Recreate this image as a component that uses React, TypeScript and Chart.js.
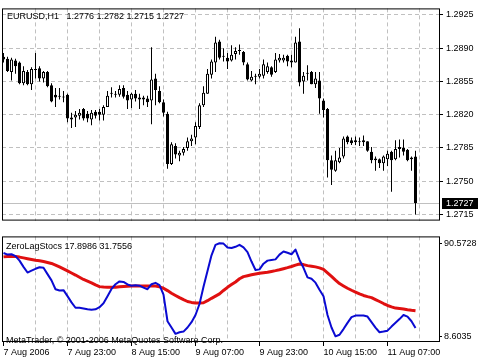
import React, { useEffect, useRef } from "react";
import { Chart, registerables } from "chart.js";

Chart.register(...registerables);

const FONT = "'Liberation Sans', Arial, sans-serif";
const GRID = "#c0c0c0";

// ---- Data (EURUSD H1 candles, bar index 0 = 7 Aug 07:00) ----
const opens = [
  1.2881, 1.2879, 1.2865, 1.2877, 1.2875, 1.2853, 1.2865, 1.2852, 1.2867, 1.2869,
  1.2858, 1.2865, 1.2851, 1.2841, 1.2840, 1.2839, 1.2841, 1.2817, 1.2817, 1.2819,
  1.2826, 1.2821, 1.2815, 1.2823, 1.2823, 1.2820, 1.2828, 1.2842, 1.2842, 1.2841,
  1.2848, 1.2841, 1.2836, 1.2842, 1.2838, 1.2838, 1.2837, 1.2835, 1.2858, 1.2845,
  1.2833, 1.2821, 1.2768, 1.2787, 1.2777, 1.2780, 1.2785, 1.2792, 1.2796, 1.2807,
  1.2830, 1.2842, 1.2862, 1.2875, 1.2897, 1.2882, 1.2880, 1.2877, 1.2884, 1.2888,
  1.2886, 1.2873, 1.2856, 1.2860, 1.2860, 1.2861, 1.2865, 1.2870, 1.2865, 1.2877,
  1.2877, 1.2882, 1.2877, 1.2875, 1.2897, 1.2855, 1.2864, 1.2865, 1.2852, 1.2856,
  1.2835, 1.2826, 1.2772, 1.2761, 1.2770, 1.2776, 1.2797, 1.2793, 1.2793, 1.2792,
  1.2791, 1.2792, 1.2781, 1.2774, 1.2773, 1.2769, 1.2773, 1.2781, 1.2773, 1.2784,
  1.2785, 1.2783, 1.2775, 1.2776,
];
const highs = [
  1.2885, 1.2881, 1.2880, 1.2879, 1.2876, 1.2871, 1.2867, 1.2870, 1.2885, 1.2871,
  1.2866, 1.2866, 1.2853, 1.2848, 1.2848, 1.2845, 1.2842, 1.2822, 1.2824, 1.2826,
  1.2827, 1.2824, 1.2825, 1.2825, 1.2826, 1.2830, 1.2845, 1.2849, 1.2845, 1.2851,
  1.2851, 1.2845, 1.2843, 1.2846, 1.2842, 1.2840, 1.2840, 1.2891, 1.2863, 1.2850,
  1.2836, 1.2823, 1.2791, 1.2790, 1.2782, 1.2786, 1.2796, 1.2799, 1.2812, 1.2832,
  1.2850, 1.2868, 1.2878, 1.2902, 1.2899, 1.2890, 1.2885, 1.2893, 1.2891, 1.2894,
  1.2887, 1.2875, 1.2866, 1.2863, 1.2868, 1.2878, 1.2875, 1.2871, 1.2885, 1.2884,
  1.2883, 1.2883, 1.2883, 1.2902, 1.2911, 1.2865, 1.2872, 1.2866, 1.2865, 1.2865,
  1.2837, 1.2827, 1.2777, 1.2782, 1.2785, 1.2797, 1.2798, 1.2796, 1.2797, 1.2796,
  1.2798, 1.2792, 1.2786, 1.2776, 1.2774, 1.2777, 1.2782, 1.2782, 1.2793, 1.2794,
  1.2794, 1.2784, 1.2776, 1.2782,
];
const lows = [
  1.2875, 1.2865, 1.2856, 1.2863, 1.2852, 1.2851, 1.2851, 1.2846, 1.2858, 1.2855,
  1.2854, 1.2849, 1.2833, 1.2828, 1.2836, 1.2833, 1.2812, 1.2806, 1.2807, 1.2815,
  1.2814, 1.2812, 1.2809, 1.2816, 1.2814, 1.2814, 1.2828, 1.2838, 1.2838, 1.2839,
  1.2837, 1.2826, 1.2827, 1.2834, 1.2826, 1.2830, 1.2828, 1.2810, 1.2830, 1.2832,
  1.2818, 1.2763, 1.2767, 1.2774, 1.2771, 1.2777, 1.2782, 1.2787, 1.2789, 1.2805,
  1.2828, 1.2842, 1.2858, 1.2865, 1.2878, 1.2876, 1.2868, 1.2876, 1.2878, 1.2883,
  1.2872, 1.2856, 1.2855, 1.2852, 1.2858, 1.2858, 1.2863, 1.2860, 1.2864, 1.2875,
  1.2875, 1.2871, 1.2870, 1.2875, 1.2850, 1.2842, 1.2856, 1.2852, 1.2848, 1.2821,
  1.2817, 1.2754, 1.2746, 1.2760, 1.2769, 1.2774, 1.2789, 1.2788, 1.2788, 1.2787,
  1.2787, 1.2781, 1.2769, 1.2761, 1.2764, 1.2761, 1.2766, 1.2739, 1.2772, 1.2775,
  1.2777, 1.2771, 1.2761, 1.2715,
];
const closes = [
  1.2878, 1.2866, 1.2878, 1.2871, 1.2853, 1.2866, 1.2852, 1.2868, 1.2868, 1.2858,
  1.2865, 1.2850, 1.2834, 1.2838, 1.2839, 1.2838, 1.2816, 1.2815, 1.2820, 1.2822,
  1.2816, 1.2816, 1.2822, 1.2819, 1.2820, 1.2828, 1.2840, 1.2843, 1.2841, 1.2847,
  1.2839, 1.2835, 1.2842, 1.2837, 1.2836, 1.2836, 1.2833, 1.2857, 1.2846, 1.2833,
  1.2822, 1.2768, 1.2789, 1.2778, 1.2780, 1.2784, 1.2792, 1.2795, 1.2808, 1.2830,
  1.2843, 1.2863, 1.2876, 1.2896, 1.2880, 1.2881, 1.2876, 1.2883, 1.2887, 1.2887,
  1.2875, 1.2857, 1.2860, 1.2861, 1.2863, 1.2873, 1.2871, 1.2862, 1.2878, 1.2880,
  1.2880, 1.2876, 1.2875, 1.2896, 1.2854, 1.2861, 1.2863, 1.2852, 1.2858, 1.2837,
  1.2825, 1.2772, 1.2762, 1.2772, 1.2775, 1.2795, 1.2791, 1.2790, 1.2791, 1.2791,
  1.2793, 1.2782, 1.2772, 1.2772, 1.2769, 1.2776, 1.2779, 1.2772, 1.2784, 1.2786,
  1.2781, 1.2772, 1.2773, 1.2727,
];

const priceTicks = [1.2715, 1.275, 1.2785, 1.282, 1.2855, 1.289, 1.2925];
const bidPrice = 1.2727;
const timeLabels = [
  "7 Aug 2006",
  "7 Aug 23:00",
  "8 Aug 15:00",
  "9 Aug 07:00",
  "9 Aug 23:00",
  "10 Aug 15:00",
  "11 Aug 07:00",
];

// ---- ZeroLagStocs indicator ----
const fastLine = [
  82.0, 80.6, 80.9, 79.2, 75.3, 69.8, 64.8, 66.5, 68.1, 69.5,
  69.0, 63.4, 57.9, 50.1, 49.0, 49.3, 44.0, 38.5, 33.8, 33.8,
  33.2, 32.4, 32.1, 32.4, 34.3, 37.7, 44.0, 50.4, 54.5, 57.0,
  56.5, 54.3, 53.2, 53.7, 53.2, 51.5, 50.1, 54.5, 55.7, 53.7,
  45.4, 21.9, 16.4, 10.8, 12.2, 12.8, 16.4, 21.1, 27.4, 37.1,
  52.3, 66.2, 80.0, 89.2, 90.57, 90.3, 86.9, 86.4, 87.5, 89.2,
  86.9, 82.8, 74.5, 67.0, 67.6, 72.6, 75.3, 75.9, 76.4, 80.6,
  83.4, 82.2, 80.9, 85.0, 75.9, 69.0, 60.6, 59.3, 55.9, 49.6,
  44.0, 27.4, 16.4, 8.61, 10.0, 15.0, 20.5, 25.5, 26.9, 26.9,
  26.9, 26.0, 21.1, 16.3, 12.2, 12.8, 13.6, 17.2, 20.5, 23.8,
  27.4, 26.0, 21.9, 16.0,
];
const slowLine = [
  78.6, 79.0, 79.2, 78.9, 78.4, 77.7, 77.0, 76.3, 75.6, 75.1,
  74.5, 73.7, 72.8, 71.4, 69.8, 68.0, 66.2, 64.4, 62.6, 60.6,
  58.7, 57.2, 55.7, 53.9, 52.4, 52.0, 51.8, 51.8, 51.8, 52.2,
  52.6, 52.8, 52.9, 52.9, 52.9, 52.9, 52.9, 53.0, 52.9, 52.2,
  51.0, 48.9, 46.6, 44.6, 42.7, 40.9, 39.3, 38.5, 37.9, 37.9,
  38.2, 40.0, 42.1, 44.0, 46.0, 49.0, 51.8, 54.2, 56.5, 59.3,
  61.2, 62.0, 62.8, 63.5, 64.2, 64.7, 65.1, 65.8, 66.5, 67.3,
  68.2, 69.1, 70.1, 71.3, 72.3, 71.8, 70.9, 70.4, 69.8, 68.9,
  67.6, 64.6, 61.5, 58.2, 55.1, 53.0, 51.0, 49.2, 47.6, 46.0,
  44.6, 43.6, 42.7, 41.0, 39.3, 37.5, 35.8, 34.6, 33.5, 33.1,
  32.7, 32.1, 31.6, 31.2,
];
const stochTicks = [8.6035, 90.5728];

const symbolTitle = "EURUSD,H1   1.2776 1.2782 1.2715 1.2727";
const indicatorTitle = "ZeroLagStocs 17.8986 31.7556";
const copyright = "MetaTrader, \u00a9 2001-2006 MetaQuotes Software Corp.";

const X_MIN = -0.375;
const X_MAX = 109.125;
const GRID_STEP = 8;
const LABEL_STEP = 16;

function xScale(showLabels: boolean): any {
  return {
    type: "linear",
    min: X_MIN,
    max: X_MAX,
    offset: false,
    afterBuildTicks: (s: any) => {
      const t: any[] = [];
      for (let v = 0; v <= X_MAX; v += GRID_STEP) t.push({ value: v });
      s.ticks = t;
    },
    grid: {
      offset: false,
      color: (ctx: any) =>
        ctx.tick && ctx.tick.value === 0 ? "rgba(0,0,0,0)" : GRID,
      drawTicks: showLabels,
      tickLength: 4,
      tickColor: (ctx: any) =>
        ctx.tick && ctx.tick.value % LABEL_STEP === 0 ? "#000" : "rgba(0,0,0,0)",
    },
    border: { display: false, dash: [4, 3] },
    ticks: {
      display: showLabels,
      autoSkip: false,
      maxRotation: 0,
      minRotation: 0,
      align: "start",
      padding: 1,
      color: "#000",
      font: { family: FONT, size: 9 },
      callback: (v: any) =>
        v % LABEL_STEP === 0 ? timeLabels[v / LABEL_STEP] ?? "" : "",
    },
    afterFit: (s: any) => {
      s.height = showLabels ? 18 : 0;
    },
  };
}

const boxPlugin = {
  id: "box",
  afterDraw(chart: any) {
    const { ctx, chartArea: a } = chart;
    ctx.save();
    ctx.strokeStyle = "#000";
    ctx.lineWidth = 1;
    ctx.strokeRect(a.left + 0.5, a.top + 0.5, a.right - a.left - 1, a.bottom - a.top - 1);
    ctx.restore();
  },
};

export default function App() {
  const mainRef = useRef<HTMLCanvasElement>(null);
  const subRef = useRef<HTMLCanvasElement>(null);

  useEffect(() => {
    const mainChart = new Chart(mainRef.current as HTMLCanvasElement, {
      type: "bar",
      data: {
        datasets: [
          {
            label: "body",
            data: opens.map((o, i) => ({ x: i, y: [o, closes[i]] })) as any,
            backgroundColor: opens.map((o, i) => (closes[i] >= o ? "#ffffff" : "#000000")),
            borderColor: "#000",
            borderWidth: 1,
            borderSkipped: false,
            barThickness: 3,
            grouped: false,
            inflateAmount: 0,
            minBarLength: 1,
            order: 0,
          } as any,
          {
            label: "wick",
            data: lows.map((l, i) => ({ x: i, y: [l, highs[i]] })) as any,
            backgroundColor: "#000",
            borderWidth: 0,
            barThickness: 1,
            grouped: false,
            inflateAmount: 0,
            order: 1,
          } as any,
        ],
      },
      options: {
        responsive: false,
        maintainAspectRatio: false,
        animation: false,
        devicePixelRatio: 1,
        events: [],
        layout: { padding: { left: 2, top: 2, right: 0, bottom: 1 } },
        plugins: { legend: { display: false }, tooltip: { enabled: false } },
        scales: {
          x: xScale(false),
          y: {
            type: "linear",
            position: "right",
            min: 1.27085,
            max: 1.29319,
            afterBuildTicks: (s: any) => {
              s.ticks = priceTicks.map((v) => ({ value: v }));
            },
            grid: { color: GRID, tickLength: 3, tickColor: "#000" },
            border: { display: false, dash: [4, 3] },
            ticks: {
              padding: 3,
              color: "#000",
              crossAlign: "near",
              font: { family: FONT, size: 9 },
              callback: (v: any) => Number(v).toFixed(4),
            },
            afterFit: (s: any) => {
              s.width = 40;
            },
          } as any,
        },
      } as any,
      plugins: [
        {
          id: "bidline",
          beforeDatasetsDraw(chart: any) {
            const { ctx, chartArea: a, scales } = chart;
            const y = Math.round(scales.y.getPixelForValue(bidPrice)) + 0.5;
            ctx.save();
            ctx.strokeStyle = GRID;
            ctx.lineWidth = 1;
            ctx.beginPath();
            ctx.moveTo(a.left, y);
            ctx.lineTo(a.right, y);
            ctx.stroke();
            ctx.restore();
          },
          afterDraw(chart: any) {
            const { ctx, chartArea: a, scales } = chart;
            ctx.save();
            ctx.font = `9px ${FONT}`;
            ctx.fillStyle = "#000";
            ctx.textBaseline = "middle";
            ctx.textAlign = "left";
            ctx.fillText(symbolTitle, a.left + 5, a.top + 8);
            const by = Math.round(scales.y.getPixelForValue(bidPrice));
            ctx.fillStyle = "#000";
            ctx.fillRect(a.right + 2, by - 5, 36, 11);
            ctx.fillStyle = "#fff";
            ctx.fillText(bidPrice.toFixed(4), a.right + 6, by + 0.5);
            ctx.restore();
          },
        },
        boxPlugin,
      ],
    });

    const subChart = new Chart(subRef.current as HTMLCanvasElement, {
      type: "line",
      data: {
        datasets: [
          {
            label: "fast",
            data: fastLine.map((v, i) => ({ x: i, y: v })) as any,
            borderColor: "#0a0ad2",
            borderWidth: 2,
            pointRadius: 0,
            tension: 0,
            borderJoinStyle: "round",
            order: 0,
          } as any,
          {
            label: "slow",
            data: slowLine.map((v, i) => ({ x: i, y: v })) as any,
            borderColor: "#e01010",
            borderWidth: 3,
            pointRadius: 0,
            tension: 0,
            borderJoinStyle: "round",
            order: 1,
          } as any,
        ],
      },
      options: {
        responsive: false,
        maintainAspectRatio: false,
        animation: false,
        devicePixelRatio: 1,
        events: [],
        layout: { padding: { left: 2, top: 1, right: 0, bottom: 0 } },
        plugins: { legend: { display: false }, tooltip: { enabled: false } },
        scales: {
          x: xScale(true),
          y: {
            type: "linear",
            position: "right",
            min: 3.62,
            max: 96.64,
            afterBuildTicks: (s: any) => {
              s.ticks = stochTicks.map((v) => ({ value: v }));
            },
            grid: { drawOnChartArea: false, tickLength: 2, tickColor: "#000" },
            border: { display: false },
            ticks: {
              padding: 2,
              color: "#000",
              crossAlign: "near",
              font: { family: FONT, size: 9 },
              callback: (v: any) => Number(v).toFixed(4),
            },
            afterFit: (s: any) => {
              s.width = 40;
            },
          } as any,
        },
      } as any,
      plugins: [
        {
          id: "labels",
          beforeDatasetsDraw(chart: any) {
            const { ctx, chartArea: a } = chart;
            ctx.save();
            ctx.font = `9px ${FONT}`;
            ctx.fillStyle = "#000";
            ctx.textBaseline = "middle";
            ctx.textAlign = "left";
            ctx.fillText(indicatorTitle, a.left + 4, a.top + 10.5);
            ctx.fillText(copyright, a.left + 4, a.top + 104.5);
            ctx.restore();
          },
        },
        boxPlugin,
      ],
    });

    return () => {
      mainChart.destroy();
      subChart.destroy();
    };
  }, []);

  return (
    <div
      style={{
        position: "fixed",
        left: 0,
        top: 0,
        width: 480,
        height: 360,
        background: "#fff",
      }}
    >
      <canvas
        ref={mainRef}
        width={480}
        height={229}
        style={{ position: "absolute", left: 0, top: 0, width: 480, height: 229 }}
      />
      <canvas
        ref={subRef}
        width={480}
        height={131}
        style={{ position: "absolute", left: 0, top: 229, width: 480, height: 131 }}
      />
    </div>
  );
}
